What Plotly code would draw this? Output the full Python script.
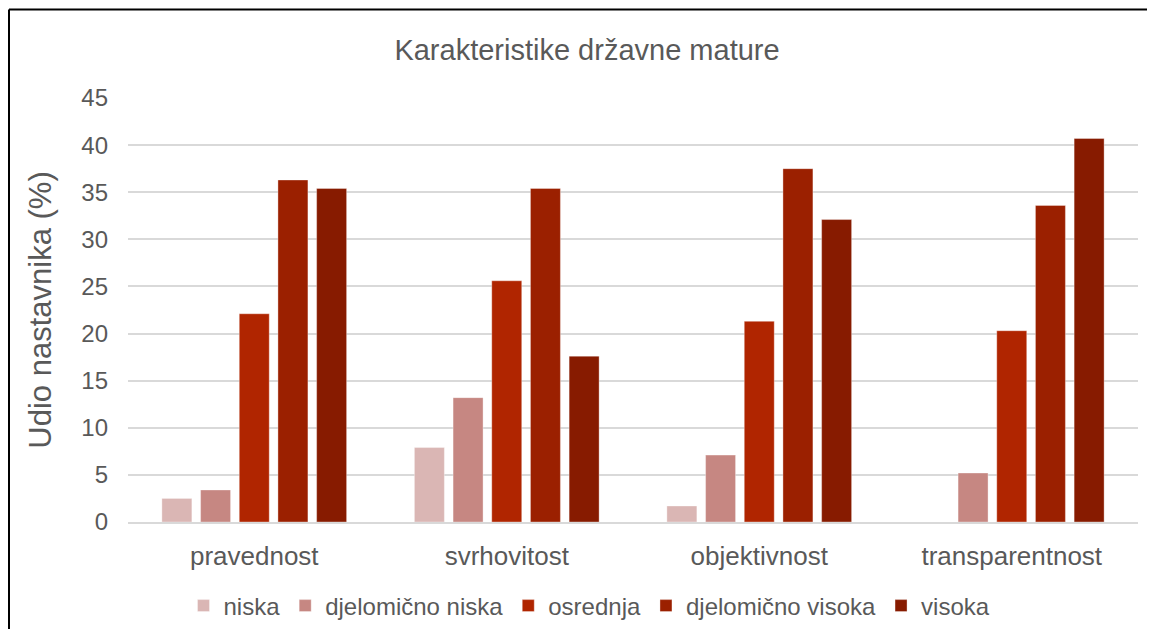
import plotly.graph_objects as go

categories = ['pravednost', 'svrhovitost', 'objektivnost', 'transparentnost']
series_names = ['niska', 'djelomično niska', 'osrednja', 'djelomično visoka', 'visoka']

niska = [2.5, 7.9, 1.7, 0]
djelomicno_niska = [3.4, 13.2, 7.1, 5.2]
osrednja = [22.1, 25.6, 21.3, 20.3]
djelomicno_visoka = [36.3, 35.4, 37.5, 33.6]
visoka = [35.4, 17.6, 32.1, 40.7]

y_ticks = [0, 5, 10, 15, 20, 25, 30, 35, 40, 45]

values = [niska, djelomicno_niska, osrednja, djelomicno_visoka, visoka]
colors = ['#DAB6B4', '#C68782', '#B02500', '#9B2000', '#871B00']

FONT = 'Liberation Sans, Arial, sans-serif'
GREY = '#595959'

fig = go.Figure()
for name, vals, col in zip(series_names, values, colors):
    fig.add_trace(go.Bar(
        x=categories, y=vals, name=name,
        marker=dict(color=col, line=dict(color='rgba(255,255,255,0.35)', width=1)),
    ))

# page has an 8px body margin all round, keep the figure inside the window
W, H = 1140, 621
L, R, T, B = 120, 10, 90, 107
pw, ph = W - L - R, H - T - B

# frame (only top and left edges show in the reference)
fx = (1 - L) / pw
fy = (H - B - 1.5) / ph

fig.update_layout(
    width=W, height=H,
    margin=dict(l=L, r=R, t=T, b=B),
    paper_bgcolor='white', plot_bgcolor='white',
    barmode='group', bargap=0.234, bargroupgap=0.225,
    font=dict(family=FONT, color=GREY),
    title=dict(text='Karakteristike državne mature', xref='container', x=579 / W,
               xanchor='center', yref='container', y=0.932, yanchor='middle',
               font=dict(size=29, color=GREY)),
    legend=dict(orientation='h', xref='container', x=581.5 / W, xanchor='center',
                yref='container', y=0.037, yanchor='middle',
                font=dict(size=24, color=GREY), itemwidth=30,
                traceorder='normal'),
    showlegend=True,
    shapes=[
        dict(type='line', xref='paper', yref='paper',
             x0=fx, x1=1.0 + (R + 20) / pw, y0=fy, y1=fy,
             line=dict(color='black', width=2)),
        dict(type='line', xref='paper', yref='paper',
             x0=fx, x1=fx, y0=fy, y1=(H - B - H - 10) / ph,
             line=dict(color='black', width=2)),
    ],
)

fig.update_xaxes(
    showgrid=False, showline=True, linecolor='#D9D9D9', linewidth=1.5,
    tickfont=dict(size=26, color=GREY), ticks='', ticklabelstandoff=10,
)
fig.update_yaxes(
    range=[0, 45], tickvals=y_ticks, showgrid=True, gridcolor='#D9D9D9',
    gridwidth=1.5, zeroline=False, tickfont=dict(size=24, color=GREY),
    ticklabelstandoff=19,
    title=dict(text='Udio nastavnika (%)', font=dict(size=31, color=GREY), standoff=20),
)

fig.write_html("out.html")
